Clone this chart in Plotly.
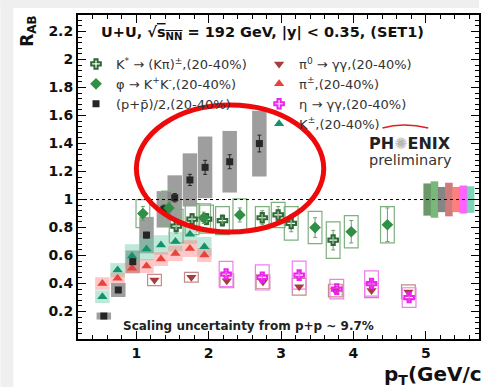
import plotly.graph_objects as go

# ---------------- data ----------------
kst_pt = [1.55, 1.77, 1.97, 2.19, 2.74, 2.96, 3.14, 3.72]
kst_val = [0.81, 0.86, 0.86, 0.85, 0.87, 0.89, 0.83, 0.71]
kst_stat = [0.05, 0.04, 0.04, 0.04, 0.05, 0.06, 0.06, 0.07]
kst_sys = [0.12, 0.11, 0.10, 0.10, 0.08, 0.09, 0.12, 0.13]

phi_pt = [1.09, 1.45, 1.93, 2.43, 3.47, 3.97, 4.47]
phi_val = [0.90, 0.94, 0.87, 0.89, 0.80, 0.77, 0.82]
phi_stat = [0.05, 0.05, 0.04, 0.05, 0.07, 0.08, 0.12]
phi_sys = [0.10, 0.12, 0.10, 0.115, 0.115, 0.115, 0.13]

p_pt = [0.55, 0.75, 0.95, 1.14, 1.38, 1.53, 1.74, 1.95, 2.29, 2.70]
p_val = [0.168, 0.354, 0.556, 0.746, 0.93, 1.013, 1.14, 1.23, 1.27, 1.40]
p_stat = [0.01, 0.015, 0.02, 0.02, 0.03, 0.03, 0.04, 0.05, 0.05, 0.06]
p_sys = [0.025, 0.05, 0.08, 0.13, 0.13, 0.16, 0.19, 0.22, 0.22, 0.235]

pi0_pt = [1.25, 1.76, 2.25, 2.75, 3.25, 3.75, 4.25, 4.76]
pi0_val = [0.425, 0.445, 0.42, 0.413, 0.377, 0.35, 0.35, 0.34]
pi0_sys = [0.04, 0.035, 0.05, 0.05, 0.06, 0.045, 0.05, 0.05]

pic_pt = [0.53, 0.74, 0.94, 1.14, 1.34, 1.54, 1.74, 1.94]
pic_val = [0.40, 0.437, 0.51, 0.525, 0.575, 0.615, 0.65, 0.604]
pic_sys = [0.045, 0.04, 0.04, 0.05, 0.05, 0.055, 0.06, 0.05]

eta_pt = [2.24, 2.74, 3.25, 3.77, 4.25, 4.77]
eta_val = [0.468, 0.444, 0.46, 0.36, 0.40, 0.30]
eta_stat = [0.02, 0.02, 0.025, 0.02, 0.025, 0.02]
eta_sys = [0.09, 0.09, 0.10, 0.07, 0.09, 0.07]

kc_pt = [0.53, 0.74, 0.94, 1.14, 1.34, 1.54, 1.74, 1.94]
kc_val = [0.306, 0.496, 0.596, 0.646, 0.675, 0.70, 0.753, 0.663]
kc_sys = [0.045, 0.05, 0.085, 0.08, 0.07, 0.07, 0.07, 0.07]

norm_pt = [5.02, 5.12, 5.22, 5.32, 5.42, 5.52, 5.62]
norm_err = [0.115, 0.13, 0.09, 0.12, 0.09, 0.10, 0.095]
norm_colors = ["rgba(70,125,70,0.8)", "rgba(100,170,100,0.85)", "rgba(120,120,120,0.9)",
               "rgba(200,100,100,0.85)", "rgba(255,105,105,0.85)", "rgba(255,70,255,0.85)",
               "rgba(100,205,170,0.85)"]

# ---------------- layout constants (pixels) ----------------
W, H = 481, 387
L, R, T, B = 78, 481, 15, 339
FONT = "DejaVu Sans, Liberation Sans, Arial, sans-serif"


def pxx(px):
    return (px - L) / (R - L)


def pxy(py):
    return (B - py) / (B - T)


def box_trace(xs, ys, es, width, fill, line, lw=1):
    return go.Bar(x=xs, y=[2 * e for e in es], base=[y - e for y, e in zip(ys, es)],
                  width=width, marker=dict(color=fill, line=dict(color=line, width=lw)),
                  showlegend=False, hoverinfo="skip")


fig = go.Figure()

# systematic boxes (drawn under markers)
fig.add_trace(box_trace(p_pt, p_val, p_sys, 0.2, "rgba(125,125,125,0.75)", "rgba(0,0,0,0)", 0))
fig.add_trace(box_trace(kc_pt, kc_val, kc_sys, 0.2, "rgba(110,205,170,0.45)", "rgba(0,0,0,0)", 0))
fig.add_trace(box_trace(pic_pt, pic_val, pic_sys, 0.2, "rgba(255,130,130,0.45)", "rgba(0,0,0,0)", 0))
fig.add_trace(box_trace(pi0_pt, pi0_val, pi0_sys, 0.19, "rgba(0,0,0,0)", "#c58a8a", 1.2))
fig.add_trace(box_trace(eta_pt, eta_val, eta_sys, 0.19, "rgba(0,0,0,0)", "#f27cf2", 1.2))
fig.add_trace(box_trace(kst_pt, kst_val, kst_sys, 0.19, "rgba(0,0,0,0)", "#7fb07f", 1.2))
fig.add_trace(box_trace(phi_pt, phi_val, phi_sys, 0.19, "rgba(0,0,0,0)", "#7fb07f", 1.2))
fig.add_trace(go.Bar(x=norm_pt, y=[2 * e for e in norm_err], base=[1 - e for e in norm_err],
                     width=0.105, marker=dict(color=norm_colors, line=dict(width=0)),
                     showlegend=False, hoverinfo="skip"))


def pts(xs, ys, name, symbol, color, size, legend, rank, stat=None, lw=0, ecol=None):
    err = None
    if stat is not None:
        err = dict(type="data", array=stat, color=ecol or color, thickness=1, width=2)
    return go.Scatter(x=xs, y=ys, mode="markers", name=name, legend=legend, legendrank=rank,
                      marker=dict(symbol=symbol, color=color, size=size,
                                  line=dict(color=color, width=lw)),
                      error_y=err)


K_COL = "#2d6a35"
PHI_COL = "#2f8f45"
P_COL = "#262626"
PI0_COL = "#a63c3c"
PIC_COL = "#e8433a"
ETA_COL = "#ee22ee"
KC_COL = "#13936a"

fig.add_trace(pts(kc_pt, kc_val, "K<sup>±</sup>,(20-40%)", "triangle-up", KC_COL, 9, "legend2", 4))
fig.add_trace(pts(pic_pt, pic_val, "π<sup>±</sup>,(20-40%)", "triangle-up", PIC_COL, 9, "legend2", 2))
fig.add_trace(pts(pi0_pt, pi0_val, "π<sup>0</sup> → γγ,(20-40%)", "triangle-down", PI0_COL, 9,
                  "legend2", 1))
fig.add_trace(pts(eta_pt, eta_val, "η → γγ,(20-40%)", "cross-open", ETA_COL, 8, "legend2", 3,
                  eta_stat, lw=2))
fig.add_trace(pts(p_pt, p_val, "(p+p̄)/2,(20-40%)", "square", P_COL, 7, "legend", 3, p_stat))
fig.add_trace(pts(kst_pt, kst_val, "K<sup>*</sup> → (Kπ)<sup>±</sup>,(20-40%)", "cross-open",
                  K_COL, 8, "legend", 1, kst_stat, lw=2, ecol="#6f9f6f"))
fig.add_trace(pts(phi_pt, phi_val, "φ → K<sup>+</sup>K<sup>-</sup>,(20-40%)", "diamond",
                  PHI_COL, 9, "legend", 2, phi_stat, ecol="#6f9f6f"))

axis_common = dict(showline=True, linewidth=2, linecolor="black", mirror="allticks",
                   ticks="inside", ticklen=8, tickwidth=1.3, tickcolor="black",
                   showgrid=False, zeroline=False,
                   tickfont=dict(family=FONT, size=14, color="#111", weight="bold"))

leg_common = dict(xanchor="left", yanchor="top", bgcolor="rgba(0,0,0,0)",
                  font=dict(family=FONT, size=13, color="#333"), traceorder="normal",
                  tracegroupgap=0, itemwidth=30)

fig.update_layout(
    width=W, height=H,
    margin=dict(l=L, r=W - R, t=T, b=H - B),
    paper_bgcolor="white", plot_bgcolor="white",
    barmode="overlay",
    xaxis=dict(range=[0.193, 5.736], tick0=0, dtick=1,
               minor=dict(dtick=0.2, ticks="inside", ticklen=4, tickcolor="black", tickwidth=1),
               **axis_common),
    yaxis=dict(range=[0.004, 2.318], tick0=0, dtick=0.2,
               minor=dict(dtick=0.04, ticks="inside", ticklen=4, tickcolor="black", tickwidth=1),
               **axis_common),
    legend=dict(x=pxx(76), y=pxy(49), **leg_common),
    legend2=dict(x=pxx(260), y=pxy(49), **leg_common),
    showlegend=True,
)

shapes = [
    dict(type="rect", xref="paper", yref="paper", x0=pxx(0), x1=pxx(13), y0=pxy(H), y1=pxy(0),
         fillcolor="#efefef", line=dict(width=0), layer="below"),
    dict(type="rect", xref="paper", yref="paper", x0=pxx(0), x1=pxx(W), y0=pxy(8), y1=pxy(0),
         fillcolor="#efefef", line=dict(width=0), layer="below"),
    dict(type="line", xref="paper", yref="y", x0=0, x1=1, y0=1, y1=1,
         line=dict(color="black", width=1, dash="dot"), layer="above"),
    dict(type="circle", xref="x", yref="y", x0=1.0, x1=3.59, y0=0.768, y1=1.675,
         line=dict(color="#ee0a0a", width=5), layer="above"),
    dict(type="path", xref="paper", yref="paper",
         path=f"M {pxx(384)} {pxy(128)} Q {pxx(405)} {pxy(122)} {pxx(430)} {pxy(128)}",
         line=dict(color="#e02020", width=1.5)),
]
fig.update_layout(shapes=shapes)

ann = [
    dict(text="<b>U+U, √<span style='text-decoration:overline'>s<sub>NN</sub></span> = 192 GeV, |y| < 0.35, (SET1)</b>",
         x=pxx(99), y=pxy(33), xanchor="left", yanchor="middle",
         font=dict(family=FONT, size=14.5, color="#111")),
    dict(text="<b>R<sub>AB</sub></b>", x=pxx(28), y=pxy(14), xanchor="center", yanchor="top",
         textangle=-90, font=dict(family=FONT, size=17, color="#111")),
    dict(text="<b>p<sub>T</sub>(GeV/c)</b>", x=pxx(384), y=pxy(375), xanchor="left",
         yanchor="middle", font=dict(family=FONT, size=20, color="#111")),
    dict(text="<b>Scaling uncertainty from p+p ~ 9.7%</b>", x=pxx(121), y=pxy(326),
         xanchor="left", yanchor="middle", font=dict(family=FONT, size=12, color="#222")),
    dict(text="<b>PH<span style='color:#b8b8b8'>✺</span>ENIX</b>", x=pxx(412), y=pxy(143),
         xanchor="center", yanchor="middle", font=dict(family=FONT, size=16, color="#222")),
    dict(text="preliminary", x=pxx(412), y=pxy(160), xanchor="center", yanchor="middle",
         font=dict(family=FONT, size=14.5, color="#333")),
]
for a in ann:
    a.update(xref="paper", yref="paper", showarrow=False)
fig.update_layout(annotations=ann)

fig.write_html("out.html")
